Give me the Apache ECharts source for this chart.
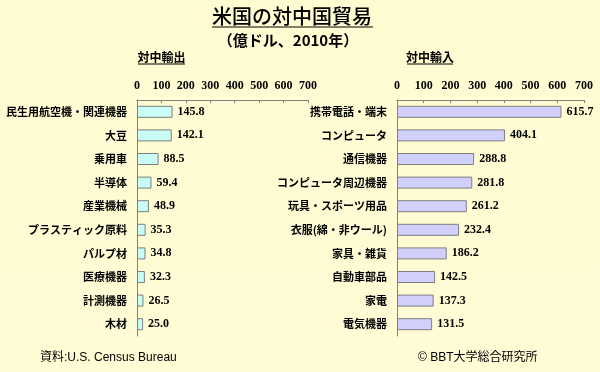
<!DOCTYPE html>
<html><head><meta charset="utf-8">
<script src="https://cdn.jsdelivr.net/npm/echarts@6/dist/echarts.min.js"></script>
<style>html,body{margin:0;padding:0;}#c{width:600px;height:372px;}</style>
</head><body><div id="c"></div>
<script>
const exportCategories = ['民生用航空機・関連機器','大豆','乗用車','半導体','産業機械','プラスティック原料','パルプ材','医療機器','計測機器','木材'];
const exportValues = [145.8,142.1,88.5,59.4,48.9,35.3,34.8,32.3,26.5,25.0];
const importCategories = ['携帯電話・端末','コンピュータ','通信機器','コンピュータ周辺機器','玩具・スポーツ用品','衣服(綿・非ウール)','家具・雑貨','自動車部品','家電','電気機器'];
const importValues = [615.7,404.1,288.8,281.8,261.2,232.4,186.2,142.5,137.3,131.5];
const axisTicks = [0,100,200,300,400,500,600,700];

const jp = '"Noto Sans CJK JP", sans-serif';
const serif = '"Liberation Serif", "DejaVu Serif", serif';
const chart = echarts.init(document.getElementById('c'), null, {renderer:'canvas'});

function xAx(gi){
  return {gridIndex:gi, type:'value', position:'top', min:axisTicks[0], max:axisTicks[axisTicks.length-1], interval:100,
    axisLine:{show:true, lineStyle:{color:'#808080', width:1}},
    axisTick:{show:true, inside:true, length:3, lineStyle:{color:'#808080'}},
    splitLine:{show:false},
    axisLabel:{margin:8, fontFamily:serif, fontWeight:'bold', fontSize:12, color:'#000'}};
}
function yAx(gi, cats){
  return {gridIndex:gi, type:'category', inverse:true, data:cats,
    axisLine:{show:true, lineStyle:{color:'#808080', width:1}},
    axisTick:{show:false},
    axisLabel:{margin:10, fontFamily:jp, fontWeight:'bold', fontSize:11, color:'#000'}};
}
function ser(gi, vals, color){
  return {type:'bar', xAxisIndex:gi, yAxisIndex:gi, data:vals, barWidth:12,
    itemStyle:{color:color, borderColor:'#7f7f7f', borderWidth:1},
    label:{show:true, position:'right', distance:5, fontFamily:serif, fontWeight:'bold', fontSize:12, color:'#000',
      formatter:p=>p.value.toFixed(1)},
    silent:true, animation:false};
}

chart.setOption({
  animation:false,
  backgroundColor:{type:'linear', x:0, y:0, x2:0, y2:1, colorStops:[{offset:0,color:'#fffcd2'},{offset:1,color:'#fffcd6'}]},
  grid:[
    {left:137, top:100, width:171, height:236},
    {left:397, top:100, width:187, height:236}
  ],
  xAxis:[xAx(0), xAx(1)],
  yAxis:[yAx(0, exportCategories), yAx(1, importCategories)],
  series:[ser(0, exportValues, '#c8fcf4'), ser(1, importValues, '#d0d0fa')],
  graphic:[
    {type:'text', x:292, y:16, style:{text:'米国の対中国貿易', font:'500 20px '+jp, fill:'#000', align:'center', verticalAlign:'middle'}},
    {type:'line', shape:{x1:212, y1:27, x2:373, y2:27}, style:{stroke:'#000', lineWidth:1.2}},
    {type:'text', x:288, y:40, style:{text:'（億ドル、2010年）', font:'bold 15px '+jp, fill:'#000', align:'center', verticalAlign:'middle'}},
    {type:'text', x:161.5, y:57, style:{text:'対中輸出', font:'bold 12px '+jp, fill:'#000', align:'center', verticalAlign:'middle'}},
    {type:'line', shape:{x1:138, y1:64, x2:185, y2:64}, style:{stroke:'#000', lineWidth:1}},
    {type:'text', x:430, y:57, style:{text:'対中輸入', font:'bold 12px '+jp, fill:'#000', align:'center', verticalAlign:'middle'}},
    {type:'line', shape:{x1:407, y1:64, x2:453, y2:64}, style:{stroke:'#000', lineWidth:1}},
    {type:'text', x:40, y:358, style:{text:'資料:U.S. Census Bureau', font:'12px "Liberation Sans", '+jp, fill:'#000', verticalAlign:'middle'}},
    {type:'text', x:418, y:358, style:{text:'© BBT大学総合研究所', font:'12px "Liberation Sans", '+jp, fill:'#000', verticalAlign:'middle'}}
  ]
});
</script></body></html>
